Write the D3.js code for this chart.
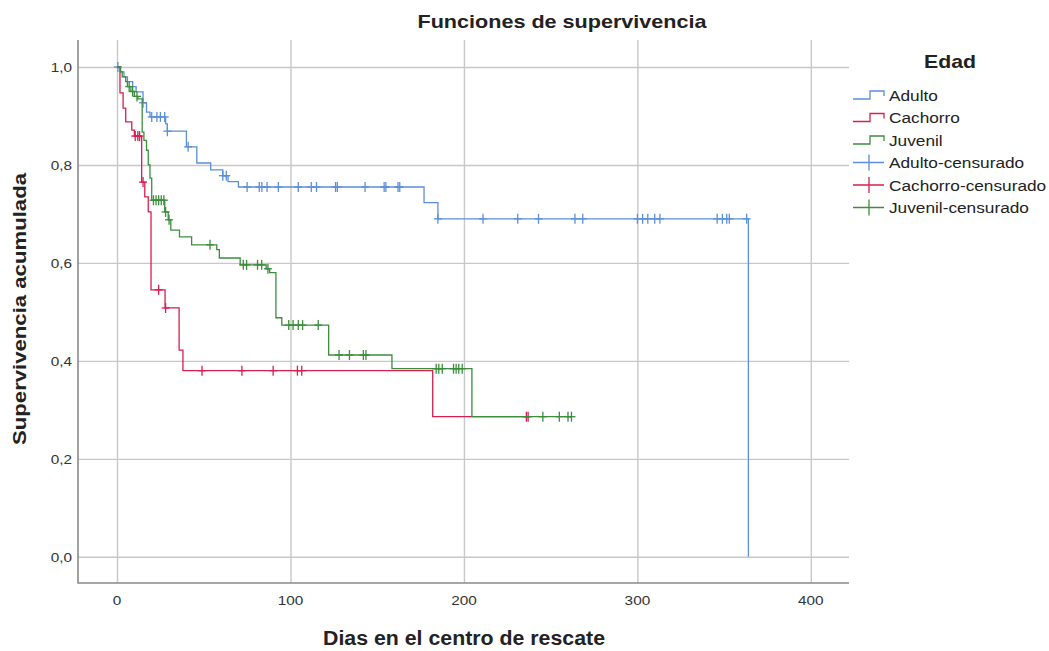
<!DOCTYPE html>
<html lang="es">
<head>
<meta charset="UTF-8">
<title>Funciones de supervivencia</title>
<script src="https://cdn.jsdelivr.net/npm/d3@7"></script>
<style>
*{margin:0; padding:0;}
body{background:#fff;}
svg text{font-family:"Liberation Sans", Arial, sans-serif; fill:#222;}
.grid line{stroke:#c8c8c8; stroke-width:1.4;}
.grid path{display:none;}
.tick text{fill:#333;}
.curve{fill:none; stroke-width:1.3;}
.cens{stroke-width:1.3;}
</style>
</head>
<body>
<script>
// --- datos ---
var groups = ["Adulto", "Cachorro", "Juvenil"];
var colors = ["#5b8fd9", "#d81e4f", "#3c8d3c"];

// tiempos de evento y supervivencia tras cada evento
var adultoT = [0, 2, 4, 6, 9, 11, 15, 17, 19, 28, 29, 40, 46, 54, 61, 64, 70, 177, 185, 364];
var adultoS = [1, 0.99, 0.98, 0.97, 0.96, 0.949, 0.927, 0.908, 0.898, 0.884, 0.869, 0.837, 0.804, 0.79, 0.778, 0.766, 0.755, 0.723, 0.69, 0];
var adultoCens = [0.5, 15, 20, 23, 25, 27.5, 29, 41, 61, 63, 75, 82, 83.5, 86.5, 93, 104.5, 112, 115, 126, 127,
	143, 154, 155, 162, 163, 185, 211, 231, 243, 264, 268.5, 300, 303, 306, 310, 313, 346, 349, 351.5, 353, 363];

var cachorroT = [0, 1.7, 3.5, 5, 8.5, 10, 14.2, 16, 18, 19.6, 27.7, 35.8, 38, 182, 237];
var cachorroS = [1, 0.947, 0.916, 0.888, 0.871, 0.859, 0.765, 0.735, 0.704, 0.545, 0.508, 0.422, 0.38, 0.286, 0.286];
var cachorroCens = [10.5, 12, 13, 15, 24, 28, 49, 72, 90, 104, 106.5, 236, 237];

var juvenilT = [0, 2, 3, 5, 6, 8, 10, 12, 14.5, 15.5, 17, 18, 19, 20, 27.5, 29.5, 31, 36, 43, 57.5, 59, 71, 86, 88,
	91.6, 95, 122, 158.5, 204.6, 262];
var juvenilS = [1, 0.99, 0.98, 0.97, 0.96, 0.95, 0.94, 0.935, 0.867, 0.85, 0.83, 0.80, 0.773, 0.728, 0.704, 0.688,
	0.667, 0.653, 0.637, 0.627, 0.61, 0.596, 0.588, 0.58, 0.488, 0.473, 0.412, 0.384, 0.286, 0.286];
var juvenilCens = [7, 9, 11.5, 21, 22.5, 24, 25.5, 27, 28, 30, 53.6, 72.8, 74.7, 81, 83.4, 87, 99, 101.5, 104.5, 107,
	116, 128, 134, 142, 143.5, 184, 185.5, 187.5, 194, 195.5, 197, 199, 245.5, 255, 260, 262];

var xTicks = [0, 100, 200, 300, 400];
var yTicks = [0, 0.2, 0.4, 0.6, 0.8, 1.0];
var legendLabels = ["Adulto", "Cachorro", "Juvenil", "Adulto-censurado", "Cachorro-censurado", "Juvenil-censurado"];

// --- dibujo ---
var width = 1049, height = 651;
var plot = {left: 78, right: 849, top: 40, bottom: 583};
var sx = 1.18; // el texto original aparece ensanchado

var svg = d3.select("body").append("svg")
	.attr("width", width)
	.attr("height", height);

var x = d3.scaleLinear().domain([-22.5, 422]).range([plot.left, plot.right]);
var y = d3.scaleLinear().domain([-0.0535, 1.0551]).range([plot.bottom, plot.top]);

// rejilla
svg.append("g")
	.attr("class", "grid")
	.attr("transform", "translate(0," + plot.bottom + ")")
	.call(d3.axisBottom(x).tickValues(xTicks).tickSize(-(plot.bottom - plot.top)).tickFormat(""));
svg.append("g")
	.attr("class", "grid")
	.attr("transform", "translate(" + plot.left + ",0)")
	.call(d3.axisLeft(y).tickValues(yTicks).tickSize(-(plot.right - plot.left)).tickFormat(""));

// etiquetas de los ejes
svg.append("g").selectAll("text")
	.data(xTicks)
	.enter().append("text")
	.attr("transform", function(d){ return "translate(" + x(d) + ",605) scale(" + sx + ",1)"; })
	.attr("text-anchor", "middle")
	.style("font-size", "13px")
	.style("fill", "#333")
	.text(function(d){ return d; });
svg.append("g").selectAll("text")
	.data(yTicks)
	.enter().append("text")
	.attr("transform", function(d){ return "translate(72," + (y(d) + 5) + ") scale(" + sx + ",1)"; })
	.attr("text-anchor", "end")
	.style("font-size", "13px")
	.style("fill", "#333")
	.text(function(d){ return d3.format(".1f")(d).replace(".", ","); });

// líneas de eje
svg.append("path")
	.attr("d", "M" + plot.left + "," + plot.top + "V" + plot.bottom + "H" + plot.right)
	.attr("fill", "none")
	.attr("stroke", "#8a8a8a")
	.attr("stroke-width", 1.6);

// curvas
var series = [
	{t: adultoT, s: adultoS, c: adultoCens},
	{t: cachorroT, s: cachorroS, c: cachorroCens},
	{t: juvenilT, s: juvenilS, c: juvenilCens}
];
var line = d3.line()
	.x(function(d){ return x(d[0]); })
	.y(function(d){ return y(d[1]); })
	.curve(d3.curveStepAfter);

function survAt(sr, t){
	var i = d3.bisectRight(sr.t, t) - 1;
	return sr.s[Math.max(i, 0)];
}

var order = [0, 1, 2];
order.forEach(function(k){
	var sr = series[k];
	var pts = sr.t.map(function(t, i){ return [t, sr.s[i]]; });
	var g = svg.append("g");
	g.append("path")
		.attr("class", "curve")
		.attr("d", line(pts))
		.attr("stroke", colors[k]);
	var cg = g.selectAll("g.cx")
		.data(sr.c)
		.enter().append("g")
		.attr("class", "cens")
		.attr("stroke", colors[k])
		.attr("transform", function(d){ return "translate(" + x(d) + "," + y(survAt(sr, d)) + ")"; });
	cg.append("line").attr("x1", -4).attr("x2", 4);
	cg.append("line").attr("y1", -5).attr("y2", 5);
});

// título y ejes
svg.append("text")
	.attr("x", 562).attr("y", 28)
	.attr("text-anchor", "middle")
	.attr("textLength", 289)
	.attr("lengthAdjust", "spacingAndGlyphs")
	.style("font-size", "18.5px")
	.style("font-weight", "bold")
	.text("Funciones de supervivencia");
svg.append("text")
	.attr("x", 464).attr("y", 645)
	.attr("text-anchor", "middle")
	.attr("textLength", 282)
	.attr("lengthAdjust", "spacingAndGlyphs")
	.style("font-size", "19.5px")
	.style("font-weight", "bold")
	.text("Dias en el centro de rescate");
svg.append("text")
	.attr("transform", "translate(26,309) rotate(-90)")
	.attr("text-anchor", "middle")
	.attr("textLength", 272)
	.attr("lengthAdjust", "spacingAndGlyphs")
	.style("font-size", "18px")
	.style("font-weight", "bold")
	.text("Supervivencia acumulada");

// leyenda
svg.append("text")
	.attr("transform", "translate(950,68) scale(" + sx + ",1)")
	.attr("text-anchor", "middle")
	.style("font-size", "18px")
	.style("font-weight", "bold")
	.text("Edad");

var leg = svg.append("g").selectAll("g")
	.data(legendLabels)
	.enter().append("g")
	.attr("transform", function(d, i){ return "translate(0," + (95 + i * 22.5) + ")"; });
leg.append("path")
	.attr("fill", "none")
	.attr("stroke-width", 1.3)
	.attr("stroke", function(d, i){ return colors[i % 3]; })
	.attr("d", function(d, i){
		return i < 3 ? "M853,4H870V-4H884V1" : "M853,0H884M869,-8V8";
	});
leg.append("text")
	.attr("transform", "translate(889,5.5) scale(1.15,1)")
	.style("font-size", "15px")
	.style("fill", "#222")
	.text(function(d){ return d; });
</script>
</body>
</html>
